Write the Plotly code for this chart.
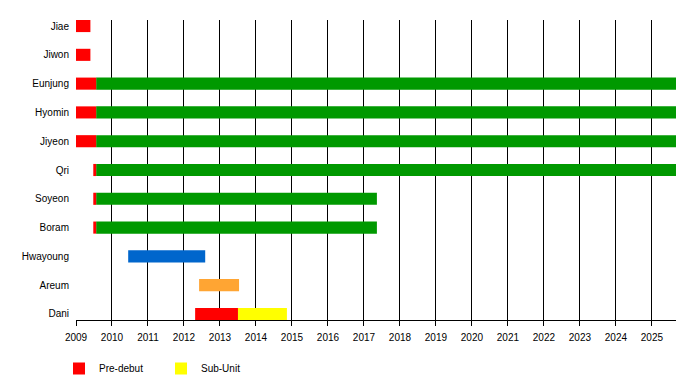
import plotly.graph_objects as go

members = ["Jiae", "Jiwon", "Eunjung", "Hyomin", "Jiyeon", "Qri", "Soyeon", "Boram", "Hwayoung", "Areum", "Dani"]

# Pre-debut segments (member, start, end) in fractional years
predebut_members = ["Jiae", "Jiwon", "Eunjung", "Hyomin", "Jiyeon", "Qri", "Soyeon", "Boram", "Dani"]
predebut_start = [2009.0, 2009.0, 2009.0, 2009.0, 2009.0, 2009.48, 2009.48, 2009.48, 2012.31]
predebut_end = [2009.4, 2009.4, 2009.56, 2009.56, 2009.56, 2009.56, 2009.56, 2009.56, 2013.5]

# Active member segments
active_members = ["Eunjung", "Hyomin", "Jiyeon", "Qri", "Soyeon", "Boram"]
active_start = [2009.56, 2009.56, 2009.56, 2009.56, 2009.56, 2009.56]
active_end = [2025.67, 2025.67, 2025.67, 2025.67, 2017.36, 2017.36]

# Other periods
blue_members = ["Hwayoung"]
blue_start = [2010.45]
blue_end = [2012.59]

orange_members = ["Areum"]
orange_start = [2012.42]
orange_end = [2013.53]

subunit_members = ["Dani"]
subunit_start = [2013.5]
subunit_end = [2014.86]

years = list(range(2009, 2026))
x_end = 2025.67

BAR_W = 0.42
FONT = "Liberation Sans, Arial, sans-serif"
W, H = 692, 372  # page body has an 8px margin


def seg_trace(ys, starts, ends, color, name, showlegend):
    return go.Bar(
        y=ys,
        x=[e - s for s, e in zip(starts, ends)],
        base=starts,
        orientation="h",
        marker=dict(color=color, line=dict(width=0)),
        width=BAR_W,
        name=name,
        showlegend=showlegend,
        hoverinfo="skip",
    )


fig = go.Figure()
fig.add_trace(seg_trace(active_members, active_start, active_end, "#009900", "Active", False))
fig.add_trace(seg_trace(blue_members, blue_start, blue_end, "#0066CC", "Former", False))
fig.add_trace(seg_trace(orange_members, orange_start, orange_end, "#FFA533", "Trainee", False))
fig.add_trace(seg_trace(predebut_members, predebut_start, predebut_end, "#FF0000", "Pre-debut", True))
fig.add_trace(seg_trace(subunit_members, subunit_start, subunit_end, "#FFFF00", "Sub-Unit", True))

fig.update_layout(
    width=W,
    height=H,
    margin=dict(l=68, r=24, t=12, b=60, autoexpand=False),
    paper_bgcolor="white",
    plot_bgcolor="white",
    barmode="overlay",
    font=dict(family=FONT, size=10, color="black"),
    xaxis=dict(
        range=[2009, x_end],
        tickmode="array",
        tickvals=years,
        ticktext=[str(y) for y in years],
        showgrid=True,
        gridcolor="black",
        gridwidth=1,
        showline=True,
        linecolor="black",
        linewidth=1,
        ticks="outside",
        ticklen=5,
        tickcolor="black",
        ticklabelstandoff=3,
        zeroline=False,
        automargin=False,
        fixedrange=True,
    ),
    yaxis=dict(
        type="category",
        categoryorder="array",
        categoryarray=members[::-1],
        range=[-0.21, 10.21],
        showgrid=False,
        showline=False,
        ticks="",
        ticklabelstandoff=6,
        zeroline=False,
        automargin=False,
        fixedrange=True,
    ),
    legend=dict(
        orientation="h",
        xref="container",
        yref="container",
        x=51 / W,
        xanchor="left",
        y=1 - 346 / H,
        yanchor="top",
        font=dict(family=FONT, size=10),
        entrywidth=57,
        entrywidthmode="pixels",
        traceorder="normal",
        itemclick=False,
    ),
    showlegend=True,
)

fig.write_html("out.html")
